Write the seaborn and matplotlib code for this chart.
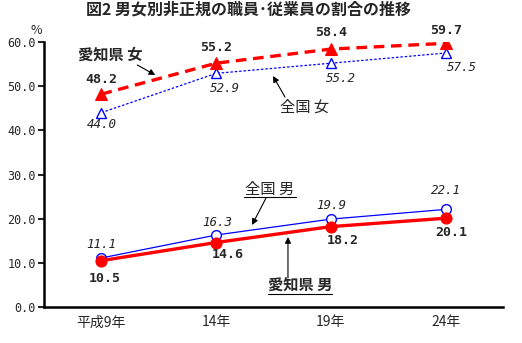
import matplotlib
matplotlib.use("Agg")
import matplotlib.pyplot as plt
import seaborn as sns
import pandas as pd

categories = ["平成9年", "14年", "19年", "24年"]
aichi_f = [48.2, 55.2, 58.4, 59.7]
zenkoku_f = [44.0, 52.9, 55.2, 57.5]
zenkoku_m = [11.1, 16.3, 19.9, 22.1]
aichi_m = [10.5, 14.6, 18.2, 20.1]
yticks = [0, 10, 20, 30, 40, 50, 60]

sns.set_theme(style="white")
plt.rcParams["font.family"] = ["Noto Sans CJK JP", "DejaVu Sans"]

fig = plt.figure(figsize=(5.22, 3.43), dpi=100)
ax = fig.add_axes([44/522, 1-307/343, (503-44)/522, (307-42)/343])

pos = list(range(len(categories)))
df = pd.DataFrame({"x": pos, "af": aichi_f, "zf": zenkoku_f, "zm": zenkoku_m, "am": aichi_m})

RED = "#ff0000"
BLUE = "#0000ff"

sns.lineplot(data=df, x="x", y="zf", ax=ax, color=BLUE, lw=0.9, linestyle=(0, (2, 1.5)),
             marker="^", markersize=7, markerfacecolor="white", markeredgecolor=BLUE, markeredgewidth=1.0)
sns.lineplot(data=df, x="x", y="af", ax=ax, color=RED, lw=2.4, linestyle=(0, (3.2, 2)),
             marker="^", markersize=8, markerfacecolor=RED, markeredgecolor=RED)
sns.lineplot(data=df, x="x", y="zm", ax=ax, color=BLUE, lw=0.9,
             marker="o", markersize=7, markerfacecolor="white", markeredgecolor=BLUE, markeredgewidth=1.0)
sns.lineplot(data=df, x="x", y="am", ax=ax, color=RED, lw=2.4,
             marker="o", markersize=8, markerfacecolor=RED, markeredgecolor=RED)

ax.set_xlim(-0.5, len(categories) - 0.5)
ax.set_ylim(0, 60)
ax.set_xticks(pos)
ax.set_xticklabels(categories, fontsize=10)
ax.set_yticks(yticks)
ax.set_yticklabels([f"{v:.1f}" for v in yticks], family="DejaVu Sans Mono", fontsize=8.5)
ax.set_xlabel("")
ax.set_ylabel("")
ax.tick_params(axis="x", length=0, pad=6)
ax.tick_params(axis="y", length=4, width=1.5, direction="out", pad=2, left=True)
for s in ["top", "right"]:
    ax.spines[s].set_visible(False)
for s in ["left", "bottom"]:
    ax.spines[s].set_color("black")
    ax.spines[s].set_linewidth(1.8)

bold = dict(family="DejaVu Sans Mono", fontweight="bold", fontsize=9.5, ha="center", va="center")
ital = dict(family="DejaVu Sans Mono", fontstyle="italic", fontsize=9, ha="center", va="center")

af_off = [(0, 15), (0, 16), (0, 17), (0, 13)]
zf_off = [(0, -12), (9, -15), (10, -15), (16, -14)]
zm_off = [(0, 13), (1, 13), (0, 14), (0, 19)]
am_off = [(3, -18), (12, -12), (12, -14), (6, -14)]
for i in pos:
    ax.annotate(f"{aichi_f[i]:.1f}", (i, aichi_f[i]), xytext=af_off[i], textcoords="offset pixels", **bold)
    ax.annotate(f"{zenkoku_f[i]:.1f}", (i, zenkoku_f[i]), xytext=zf_off[i], textcoords="offset pixels", **ital)
    ax.annotate(f"{zenkoku_m[i]:.1f}", (i, zenkoku_m[i]), xytext=zm_off[i], textcoords="offset pixels", **ital)
    ax.annotate(f"{aichi_m[i]:.1f}", (i, aichi_m[i]), xytext=am_off[i], textcoords="offset pixels", **bold)

def px2d(px, py):
    return ((px - 101) / 115.0, (307 - py) / (265 / 60.0))

arrow = dict(arrowstyle="-|>", color="black", lw=0.8, mutation_scale=9, shrinkA=0, shrinkB=0)

def callout(text, tpos, tail, head, underline=False, italic=False):
    x, y = px2d(*tpos)
    ax.text(x, y, text, fontsize=11, ha="center", va="center",
            fontweight="bold" if not italic else "normal",
            fontstyle="italic" if italic else "normal")
    ax.annotate("", xy=px2d(*head), xytext=px2d(*tail), arrowprops=arrow)
    if underline:
        w = len(text) * 13
        ax.plot([(tpos[0] - w / 2 - 101) / 115.0, (tpos[0] + w / 2 - 101) / 115.0],
                [px2d(0, tpos[1] + 8)[1]] * 2, color="black", lw=0.8)

callout("愛知県 女", (110, 55), (137, 65), (155, 75))
callout("全国 女", (305, 107), (285, 97), (273, 76), italic=True)
callout("全国 男", (270, 189), (266, 198), (252, 225), underline=True, italic=True)
callout("愛知県 男", (300, 286), (288, 278), (288, 237), underline=True)

fig.text(249 / 522, 1 - 10 / 343, "図2 男女別非正規の職員･従業員の割合の推移",
         ha="center", va="center", fontsize=11.5, fontweight="bold")
fig.text(36 / 522, 1 - 30 / 343, "%", ha="center", va="center", fontsize=9)

fig.savefig("out.png", dpi=100)
